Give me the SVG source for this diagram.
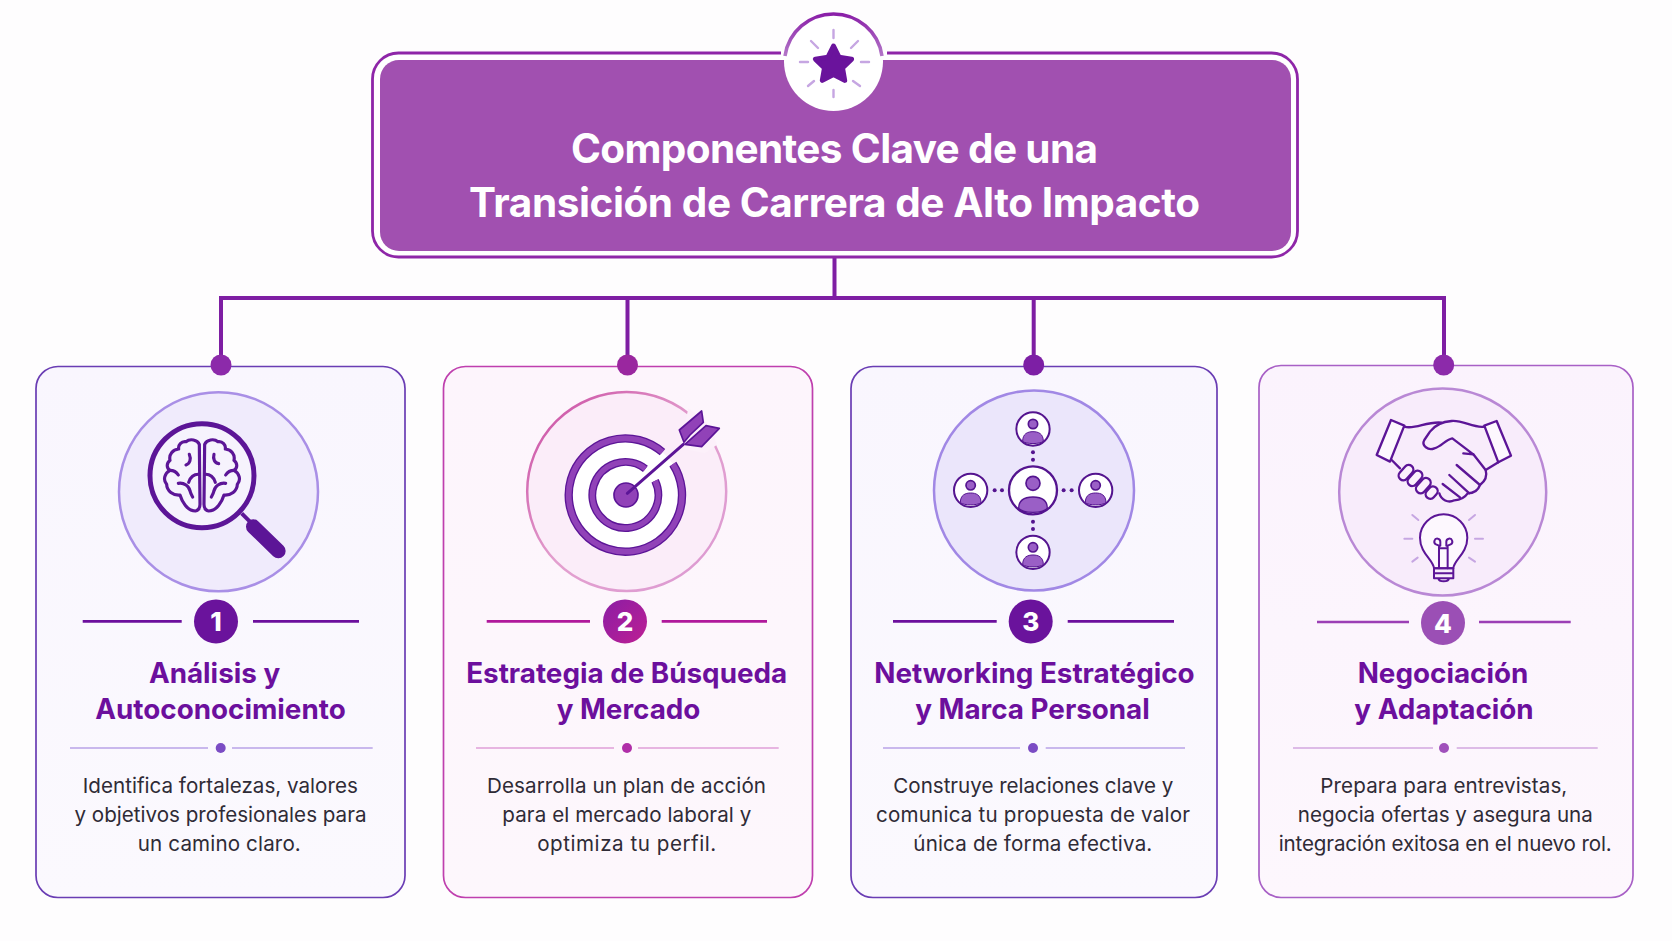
<svg xmlns="http://www.w3.org/2000/svg" width="1672" height="941" viewBox="0 0 1672 941">
<defs>
<linearGradient id="cardA" x1="0" y1="0" x2="0" y2="1"><stop offset="0" stop-color="#f9f6fe"/><stop offset="1" stop-color="#fbf9fe"/></linearGradient>
<linearGradient id="cardB" x1="0" y1="0" x2="0" y2="1"><stop offset="0" stop-color="#fdf5fc"/><stop offset="1" stop-color="#fdf7fc"/></linearGradient>
<linearGradient id="cardC" x1="0" y1="0" x2="0" y2="1"><stop offset="0" stop-color="#fbf3fd"/><stop offset="1" stop-color="#fdf7fd"/></linearGradient>
<linearGradient id="ring2" x1="0" y1="0" x2="1" y2="1"><stop offset="0" stop-color="#c9479f"/><stop offset="0.5" stop-color="#e3a0cf"/><stop offset="1" stop-color="#dc9ad3"/></linearGradient>
<linearGradient id="badge2" x1="0" y1="0" x2="1" y2="1"><stop offset="0" stop-color="#8b1da5"/><stop offset="1" stop-color="#bd1f93"/></linearGradient>
<linearGradient id="top" x1="0" y1="0" x2="0" y2="1"><stop offset="0" stop-color="#8a1fa8"/><stop offset="1" stop-color="#b377c8"/></linearGradient>
<g id="sat"><circle r="50" fill="#fff" stroke="#54148f" stroke-width="6"/><circle cy="-15" r="14" fill="#9a5fc6" stroke="#54148f" stroke-width="5"/><path d="M-31,37 C-31,14 -16,8 0,8 C16,8 31,14 31,37 C20,46 -20,46 -31,37Z" fill="#9a5fc6" stroke="#54148f" stroke-width="3"/></g>
<g id="satBig"><circle r="72" fill="#fff" stroke="#54148f" stroke-width="7"/><circle cy="-21" r="21" fill="#9a5fc6" stroke="#54148f" stroke-width="5"/><path d="M-43,54 C-43,28 -24,20 0,20 C24,20 43,28 43,54 C28,70 -28,70 -43,54Z" fill="#9a5fc6" stroke="#54148f" stroke-width="4"/></g>
</defs>
<style>
.t{font-family:"Inter","Liberation Sans",sans-serif;text-anchor:middle}
.head{font-size:40.5px;font-weight:700;fill:#fff}
.name{font-size:27.8px;font-weight:700;fill:#6c0f9d}
.body{font-size:20.6px;font-weight:400;fill:#2f2b36}
.num{font-size:26px;font-weight:800;fill:#fff}
.card{stroke-width:1.7}
.ln{stroke-width:2.6;fill:none}
.dv{stroke-width:1.6;fill:none}
.ray{stroke:#c6a6e2;stroke-width:2.4;stroke-linecap:round;fill:none}
.conn{stroke:#7e1ea3;stroke-width:4;fill:none}
.hand{fill:none;stroke:#5c1597;stroke-width:7;stroke-linejoin:round;stroke-linecap:round}
</style>
<rect width="1672" height="941" fill="#fefdfe"/>

<g id="connectors">
<path class="conn" d="M834.5,257V298M221,365V298H1444V365M627.5,298V365M1033.7,298V365"/>
</g>

<g id="header">
<rect x="372.5" y="53" width="925" height="204" rx="26" fill="#fff" stroke="#8e26a8" stroke-width="2.8"/>
<rect x="380" y="60" width="911" height="191" rx="19" fill="#a150b0"/>
<rect x="781" y="50" width="106" height="9" fill="#fff"/>
<circle cx="833.5" cy="61.5" r="49.5" fill="#fff"/>
<path d="M785,56 A49,49 0 0 1 882,56" fill="none" stroke="url(#top)" stroke-width="3.5"/>
<path d="M833.5,30V38M833.5,90V97M800,62H808M861,62H869M811,41L818,48M858,41L851,48M808,86L814,81M860,86L853,81" class="ray"/>
<polygon points="833.5,46 839.1,57.3 851.6,59.1 842.5,67.9 844.7,80.4 833.5,74.5 822.3,80.4 824.5,67.9 815.4,59.1 827.9,57.3" fill="#6a139c" stroke="#6a139c" stroke-width="5" stroke-linejoin="round"/>
<text class="t head" x="834.5" y="163" textLength="527">Componentes Clave de una</text>
<text class="t head" x="834.5" y="217" textLength="731">Transición de Carrera de Alto Impacto</text>
</g>

<g id="card1">
<rect class="card" x="36" y="366.5" width="369" height="531" rx="22" fill="url(#cardA)" stroke="#6a3db4"/>
<circle cx="221" cy="365" r="10.5" fill="#8c2aaa"/>
<circle cx="218.5" cy="491.7" r="99.5" fill="#f0ebfc" stroke="#a98fe6" stroke-width="2.5"/>
<g transform="translate(110,385) scale(0.3333)">
<circle cx="276" cy="272" r="156" fill="#f6f3fd" stroke="#5c1597" stroke-width="15"/>
<path d="M395,385L422,412" stroke="#5c1597" stroke-width="12" fill="none"/>
<path d="M430,425L505,498" stroke="#5c1597" stroke-width="44" stroke-linecap="round" fill="none"/>
<g id="brainL" fill="none" stroke="#5c1597" stroke-width="9.5" stroke-linecap="round" stroke-linejoin="round">
<path d="M268,178 C262,164 240,160 228,170 C214,168 204,180 206,192 C188,194 176,208 180,226 C168,236 170,250 180,256 C164,264 158,285 170,298 C170,318 190,332 210,330 C216,350 232,378 256,378 C266,376 270,368 270,358 Z"/>
<path d="M238,208C244,222 240,236 228,240M205,295C222,292 238,304 240,318C242,326 246,332 248,336M268,268C252,266 240,278 236,292M180,256C190,256 200,262 205,270"/>
</g>
<g fill="none" stroke="#5c1597" stroke-width="9.5" stroke-linecap="round" stroke-linejoin="round" transform="translate(552,0) scale(-1,1)">
<path d="M268,178 C262,164 240,160 228,170 C214,168 204,180 206,192 C188,194 176,208 180,226 C168,236 170,250 180,256 C164,264 158,285 170,298 C170,318 190,332 210,330 C216,350 232,378 256,378 C266,376 270,368 270,358 Z"/>
<path d="M240,208C244,222 238,234 226,236M205,295C222,292 238,304 240,318C242,326 246,332 248,336M268,268C252,266 240,278 236,292M180,256C190,256 200,262 205,270"/>
</g>
</g>
<path class="ln" stroke="#6c0f9d" d="M82.7,621.4H181.7M253,621.4H359"/>
<circle cx="216" cy="621.4" r="22" fill="#6a139c"/>
<text class="t num" x="216" y="631">1</text>
<text class="t name" x="214.5" y="683">Análisis y</text>
<text class="t name" x="220.5" y="719">Autoconocimiento</text>
<path class="dv" stroke="#b9a3e8" d="M70,748H208M232,748H372.7"/>
<circle cx="220.7" cy="748" r="5" fill="#7b4cc4"/>
<text class="t body" x="220.3" y="793" textLength="275">Identifica fortalezas, valores</text>
<text class="t body" x="220.5" y="822" textLength="292">y objetivos profesionales para</text>
<text class="t body" x="219.3" y="851" textLength="163">un camino claro.</text>
</g>

<g id="card2">
<rect class="card" x="443.5" y="366.5" width="369" height="531" rx="22" fill="url(#cardB)" stroke="#bf3fae"/>
<circle cx="627.5" cy="365" r="10.5" fill="#9a279f"/>
<circle cx="626.7" cy="491.5" r="99.5" fill="#fbedf9" stroke="url(#ring2)" stroke-width="2.5"/>
<g transform="translate(520,385) scale(0.3333)">
<circle cx="316" cy="330" r="170" fill="#fff"/>
<path d="M505,70L575,125L590,180L555,205L480,190Z" fill="#fcf0fa"/>
<path d="M458.6,237.4A170,170 0 1 1 427.5,201.7" fill="none" stroke="#5c1597" stroke-width="25"/>
<path d="M458.6,237.4A170,170 0 1 1 427.5,201.7" fill="none" stroke="#9142b8" stroke-width="17"/>
<path d="M405.3,287.2A99,99 0 1 1 376.3,251.5" fill="none" stroke="#5c1597" stroke-width="24"/>
<path d="M405.3,287.2A99,99 0 1 1 376.3,251.5" fill="none" stroke="#9142b8" stroke-width="16"/>
<circle cx="318" cy="330" r="36" fill="#9142b8" stroke="#5c1597" stroke-width="5"/>
<path d="M322,325L490,178" stroke="#5c1597" stroke-width="9" stroke-linecap="round" fill="none"/>
<path d="M478,135L545,78L550,112L510,150L492,172Z" fill="#9142b8" stroke="#5c1597" stroke-width="5" stroke-linejoin="round"/>
<path d="M510,165L558,122L598,130L545,185L495,178Z" fill="#9142b8" stroke="#5c1597" stroke-width="5" stroke-linejoin="round"/>
</g>
<path class="ln" stroke="#b0189b" d="M486.7,621.4H590M661.7,621.4H767"/>
<circle cx="625" cy="621.4" r="22" fill="url(#badge2)"/>
<text class="t num" x="625" y="631">2</text>
<text class="t name" x="626.7" y="683">Estrategia de Búsqueda</text>
<text class="t name" x="628.5" y="719">y Mercado</text>
<path class="dv" stroke="#dfa0d8" d="M476,748H614M638,748H778.7"/>
<circle cx="627" cy="748" r="5" fill="#b02ea8"/>
<text class="t body" x="626.5" y="793" textLength="279">Desarrolla un plan de acción</text>
<text class="t body" x="626.8" y="822" textLength="249">para el mercado laboral y</text>
<text class="t body" x="626.7" y="851" textLength="179">optimiza tu perfil.</text>
</g>

<g id="card3">
<rect class="card" x="851" y="366.5" width="366" height="531" rx="22" fill="url(#cardA)" stroke="#6a3db4"/>
<circle cx="1033.7" cy="365" r="10.5" fill="#7d1fa5"/>
<circle cx="1034" cy="490.5" r="100" fill="#ebe6fb" stroke="#a188e5" stroke-width="2.5"/>
<g transform="translate(925,385) scale(0.3333)">
<g fill="#54148f"><circle cx="324" cy="202" r="6"/><circle cx="324" cy="224" r="6"/><circle cx="209" cy="316" r="6"/><circle cx="231" cy="316" r="6"/><circle cx="416" cy="316" r="6"/><circle cx="440" cy="316" r="6"/><circle cx="324" cy="410" r="6"/><circle cx="324" cy="432" r="6"/></g>
<use href="#satBig" x="324" y="316"/>
<use href="#sat" x="324" y="132"/>
<use href="#sat" x="137" y="316"/>
<use href="#sat" x="512" y="316"/>
<use href="#sat" x="324" y="502"/>
</g>
<path class="ln" stroke="#6c0f9d" d="M893,621.4H996.7M1067.7,621.4H1174"/>
<circle cx="1030.7" cy="621.4" r="22" fill="#6a139c"/>
<text class="t num" x="1030.7" y="631">3</text>
<text class="t name" x="1034.5" y="683">Networking Estratégico</text>
<text class="t name" x="1032.5" y="719">y Marca Personal</text>
<path class="dv" stroke="#b9a3e8" d="M883,748H1020M1045.7,748H1185"/>
<circle cx="1033" cy="748" r="5" fill="#7b4cc4"/>
<text class="t body" x="1033.3" y="793" textLength="280">Construye relaciones clave y</text>
<text class="t body" x="1033" y="822" textLength="314">comunica tu propuesta de valor</text>
<text class="t body" x="1032.8" y="851" textLength="239">única de forma efectiva.</text>
</g>

<g id="card4">
<rect class="card" x="1259" y="365.5" width="374" height="532" rx="22" fill="url(#cardC)" stroke="#a860c6"/>
<circle cx="1443.7" cy="365" r="10.5" fill="#8c2aaa"/>
<circle cx="1442.7" cy="492" r="103.5" fill="#f8ecfb" stroke="#b988d5" stroke-width="2.5"/>
<g transform="translate(1335,385) scale(0.3333)">
<g class="hand">
<path d="M168,105L208,122L165,230L125,210Z" fill="#fdf8fe"/>
<path d="M485,108L448,122L490,232L528,212Z" fill="#fdf8fe"/>
<path d="M208,125C240,135 275,108 320,113"/>
<path d="M170,225L195,250"/>
<path d="M448,125C415,130 385,105 350,108C320,110 300,120 285,140L268,165C258,182 280,198 298,190C320,184 330,165 352,160L415,208L385,205"/>
<path d="M415,208L452,255L490,232"/>
<path d="M452,255C458,275 448,290 435,300C428,320 410,325 398,325C388,340 370,345 358,346C340,355 318,345 313,325"/>
<path d="M365,240L435,300M343,270L403,325M323,297L375,337"/>
<g fill="#fbf1fc">
<rect x="187" y="249" width="52" height="28" rx="14" transform="rotate(-48 213 263)"/>
<rect x="214" y="266" width="52" height="28" rx="14" transform="rotate(-48 240 280)"/>
<rect x="239" y="288" width="52" height="28" rx="14" transform="rotate(-48 265 302)"/>
<rect x="270" y="309" width="40" height="28" rx="14" transform="rotate(-48 290 323)"/>
</g>
</g>
<path class="ray" style="stroke-width:6" d="M232,390L250,405M420,390L402,405M208,461H232M420,461H444M232,530L248,518M402,518L420,530"/>
<g class="hand" style="stroke-width:6">
<path d="M297,550C295,525 255,505 255,458C255,420 287,388 326,388C365,388 397,420 397,458C397,505 357,525 355,550Z" fill="#fdf8fe"/>
<path d="M312,550V482L303,478A9,9 0 1 1 316,470V482M338,550V482L347,478A9,9 0 1 0 334,470V482M312,490H338"/>
<path d="M297,550H355V580H297ZM297,565H355M310,580C312,592 340,592 342,580"/>
</g>
</g>
<path class="ln" stroke="#9b3fb5" d="M1317,622H1409M1479,622H1570.7"/>
<circle cx="1443" cy="623" r="22" fill="#9b4fb5"/>
<text class="t num" x="1443" y="633">4</text>
<text class="t name" x="1443" y="683">Negociación</text>
<text class="t name" x="1444" y="719">y Adaptación</text>
<path class="dv" stroke="#d2a8e0" d="M1293,748H1433M1456.7,748H1597.7"/>
<circle cx="1444" cy="748" r="5" fill="#a050bb"/>
<text class="t body" x="1443.8" y="793" textLength="247">Prepara para entrevistas,</text>
<text class="t body" x="1445.3" y="822" textLength="295">negocia ofertas y asegura una</text>
<text class="t body" x="1445.2" y="851" textLength="333">integración exitosa en el nuevo rol.</text>
</g>
</svg>
